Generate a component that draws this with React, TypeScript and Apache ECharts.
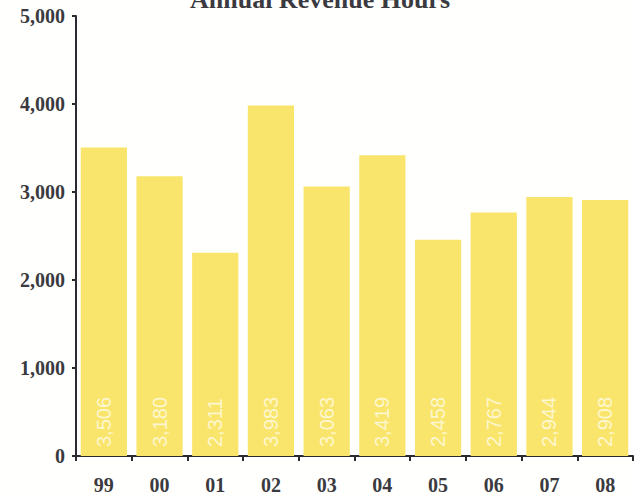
import React, { useEffect, useRef } from "react";
import * as echarts from "echarts";

const categories = ["99", "00", "01", "02", "03", "04", "05", "06", "07", "08"];
const revenueHours = [3506, 3180, 2311, 3983, 3063, 3419, 2458, 2767, 2944, 2908];
const yTicks = [0, 1000, 2000, 3000, 4000, 5000];
const titleText = "Annual Revenue Hours";

const fmt = (v: number) => v.toLocaleString("en-US");

export default function App() {
  const ref = useRef<HTMLDivElement>(null);
  useEffect(() => {
    document.body.style.margin = "0";
    const chart = echarts.init(ref.current!, undefined, { renderer: "svg" });
    const serif = "'Liberation Serif', 'Times New Roman', serif";
    chart.setOption({
      animation: false,
      backgroundColor: "#fffffd",
      grid: { left: 76, right: 1, top: 16, bottom: 41, containLabel: false },
      graphic: [
        {
          type: "text",
          x: 320,
          y: -1,
          style: {
            text: titleText,
            font: `bold 26px ${serif}`,
            fill: "#3a3a40",
            textAlign: "center",
            textVerticalAlign: "middle",
          },
        },
      ],
      xAxis: {
        type: "category",
        data: categories,
        axisLine: { show: true, lineStyle: { color: "#2a2a30", width: 2 } },
        axisTick: { show: true, length: 5, lineStyle: { color: "#2a2a30", width: 2 } },
        axisLabel: {
          margin: 19,
          fontFamily: serif,
          fontWeight: "bold",
          fontSize: 20,
          color: "#3a3a40",
        },
      },
      yAxis: {
        type: "value",
        min: yTicks[0],
        max: yTicks[yTicks.length - 1],
        interval: 1000,
        splitLine: { show: false },
        axisLine: { show: true, lineStyle: { color: "#2a2a30", width: 2 } },
        axisTick: { show: true, length: 4, lineStyle: { color: "#2a2a30", width: 2 } },
        axisLabel: {
          margin: 11,
          fontFamily: serif,
          fontWeight: "bold",
          fontSize: 20,
          color: "#3a3a40",
          formatter: (v: number) => fmt(v),
        },
      },
      series: [
        {
          type: "bar",
          data: revenueHours,
          barCategoryGap: "17%",
          itemStyle: { color: "#f9e56c" },
          label: {
            show: true,
            position: "insideBottom",
            rotate: 90,
            align: "left",
            verticalAlign: "middle",
            distance: 9,
            fontFamily: "'Liberation Sans', Arial, sans-serif",
            fontSize: 20,
            color: "#fdf7cf",
            formatter: (p: any) => fmt(p.value),
          },
        },
      ],
    });
    return () => chart.dispose();
  }, []);
  return (
    <div
      ref={ref}
      style={{ position: "absolute", left: 0, top: 0, width: 634, height: 497 }}
    />
  );
}
